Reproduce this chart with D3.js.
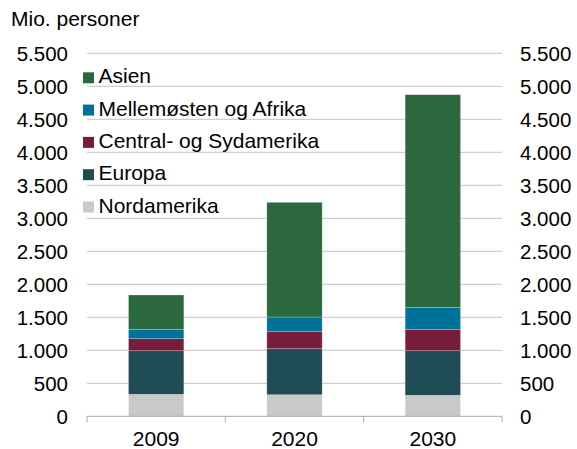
<!DOCTYPE html>
<head>
  <meta charset="utf-8">
  <script src="https://cdn.jsdelivr.net/npm/d3@7"></script>
  <style>
    body { margin:0; background:#fff; }
    svg { display:block; }
    text { font-family: "Liberation Sans", Arial, sans-serif; fill:#000; }
  </style>
</head>

<body>
  <script>
    // data (mio. personer)
    var years = ["2009", "2020", "2030"];
    var regions = ["Nordamerika", "Europa", "Central- og Sydamerika", "Mellemøsten og Afrika", "Asien"];
    var nordamerika = [333, 327, 318];
    var europa = [661, 697, 676];
    var centralSyd = [182, 258, 324];
    var mellemosten = [142, 223, 333];
    var asien = [520, 1737, 3222];
    var colors = ["#c9c9c9", "#1f4b54", "#771c3b", "#00729a", "#2c683e"];
    var yTicks = d3.range(0, 5501, 500);

    var width = 577, height = 449;
    // plot area edges (note: "top" is reserved on window, so use other names)
    var plotLeft = 87, plotRight = 502, plotTop = 53.3, plotBottom = 416.3;

    var svg = d3.select("body").append("svg")
      .attr("width", width)
      .attr("height", height);

    // stack the series
    var rows = years.map(function (y, i) {
      return { year: y, "Nordamerika": nordamerika[i], "Europa": europa[i],
        "Central- og Sydamerika": centralSyd[i], "Mellemøsten og Afrika": mellemosten[i], "Asien": asien[i] };
    });
    var series = d3.stack().keys(regions)(rows);

    var x = d3.scaleBand().domain(years).range([plotLeft, plotRight])
      .paddingInner(0.6).paddingOuter(0.3);
    var y = d3.scaleLinear().domain([0, 5500]).range([plotBottom, plotTop]);

    var locale = d3.formatLocale({ decimal: ",", thousands: ".", grouping: [3], currency: ["", ""] });
    var fmt = locale.format(",");

    // gridlines
    svg.append("g").selectAll("line")
      .data(yTicks.filter(function (d) { return d > 0; }))
      .enter().append("line")
      .attr("x1", plotLeft).attr("x2", plotRight)
      .attr("y1", function (d) { return y(d); })
      .attr("y2", function (d) { return y(d); })
      .attr("stroke", "#c4c4c4")
      .attr("stroke-width", 1);

    // left and right axis labels
    svg.append("g").selectAll("text")
      .data(yTicks).enter().append("text")
      .attr("x", 68).attr("y", function (d) { return y(d); })
      .attr("dy", "0.36em")
      .attr("text-anchor", "end")
      .style("font-size", "20.5px")
      .text(fmt);
    svg.append("g").selectAll("text")
      .data(yTicks).enter().append("text")
      .attr("x", 520).attr("y", function (d) { return y(d); })
      .attr("dy", "0.36em")
      .attr("text-anchor", "start")
      .style("font-size", "20.5px")
      .text(fmt);

    // bars
    svg.append("g").selectAll("g")
      .data(series).enter().append("g")
      .attr("fill", function (d, i) { return colors[i]; })
      .selectAll("rect")
      .data(function (d) { return d; })
      .enter().append("rect")
      .attr("x", function (d) { return x(d.data.year); })
      .attr("width", x.bandwidth())
      .attr("y", function (d) { return y(d[1]); })
      .attr("height", function (d) { return y(d[0]) - y(d[1]); })
      .attr("stroke", "rgba(255,255,255,0.3)")
      .attr("stroke-width", 0.75);

    // x axis line and ticks between categories
    svg.append("line")
      .attr("x1", plotLeft).attr("x2", plotRight)
      .attr("y1", plotBottom).attr("y2", plotBottom)
      .attr("stroke", "#a9a9a9").attr("stroke-width", 1);
    svg.append("g").selectAll("line")
      .data(d3.range(years.length + 1)).enter().append("line")
      .attr("x1", function (i) { return plotLeft + i * x.step(); })
      .attr("x2", function (i) { return plotLeft + i * x.step(); })
      .attr("y1", plotBottom).attr("y2", plotBottom + 6)
      .attr("stroke", "#a9a9a9").attr("stroke-width", 1);

    svg.append("g").selectAll("text")
      .data(years).enter().append("text")
      .attr("x", function (d) { return x(d) + x.bandwidth() / 2; })
      .attr("y", 446)
      .attr("text-anchor", "middle")
      .style("font-size", "21px")
      .text(function (d) { return d; });

    // unit title
    svg.append("text")
      .attr("x", 11).attr("y", 25.5)
      .style("font-size", "21px")
      .text("Mio. personer");

    // legend, Asien on top
    var legend = svg.append("g").selectAll("g")
      .data(regions.slice().reverse()).enter().append("g")
      .attr("transform", function (d, i) { return "translate(83," + (83.3 + i * 32.3) + ")"; });
    legend.append("rect")
      .attr("x", 0).attr("y", -11).attr("width", 11).attr("height", 11)
      .attr("fill", function (d) { return colors[regions.indexOf(d)]; });
    legend.append("text")
      .attr("x", 15.5).attr("y", 0)
      .style("font-size", "21px")
      .text(function (d) { return d; });
  </script>
</body>
</html>
